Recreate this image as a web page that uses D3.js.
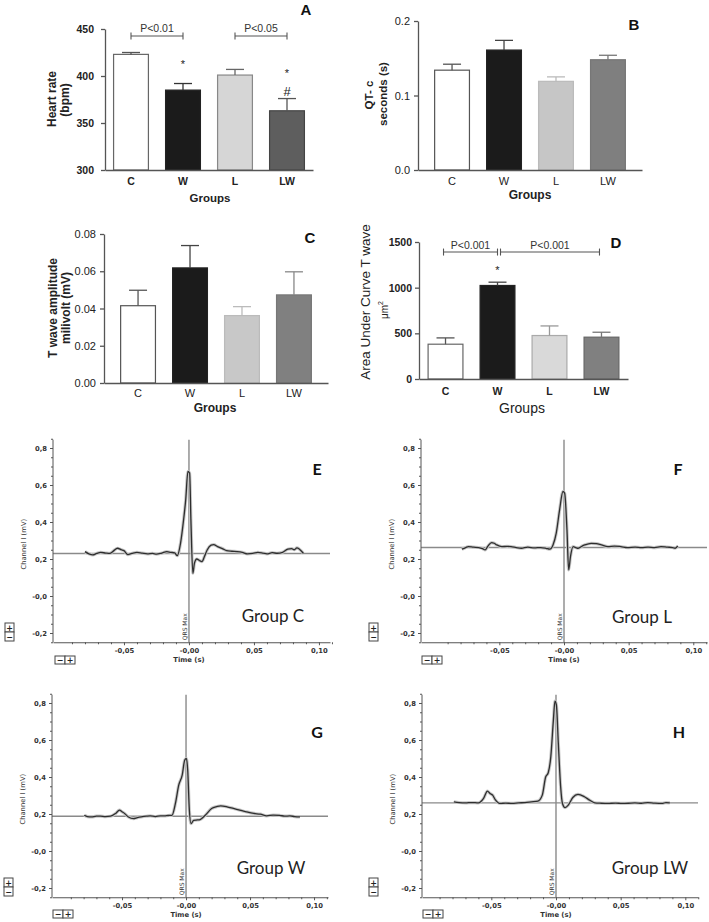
<!DOCTYPE html>
<html><head><meta charset="utf-8">
<script src="https://cdn.jsdelivr.net/npm/d3@7"></script>
<style>body{margin:0;background:#fff}svg{display:block}</style>
</head><body>
<svg id="chart" width="709" height="922"></svg>
<script>
// ---------------- DATA ----------------
const categories = ["C", "W", "L", "LW"];

const heartRate    = [423, 385, 401, 363];
const heartRateErr = [425, 392, 407, 376];
const heartTicks   = [300, 350, 400, 450];
const heartTickLabels = ["300", "350", "400", "450"];

const qtc    = [0.134, 0.161, 0.119, 0.148];
const qtcErr = [0.142, 0.174, 0.125, 0.154];
const qtcTicks = [0, 0.1, 0.2];
const qtcTickLabels = ["0.0", "0.1", "0.2"];

const tAmp    = [0.0415, 0.0618, 0.0362, 0.0473];
const tAmpErr = [0.0498, 0.0738, 0.0410, 0.0597];
const tAmpTicks = [0, 0.02, 0.04, 0.06, 0.08];
const tAmpTickLabels = ["0.00", "0.02", "0.04", "0.06", "0.08"];

const aucT    = [381, 1024, 476, 458];
const aucTErr = [450, 1060, 581, 512];
const aucTicks = [0, 500, 1000, 1500];
const aucTickLabels = ["0", "500", "1000", "1500"];

const sigA = [{from: "C", to: "W", label: "P<0.01", v: 442.5, labelV: 447},
              {from: "L", to: "LW", label: "P<0.05", v: 442.5, labelV: 447}];
const marksA = [{cat: "W", text: "*", v: 409}, {cat: "LW", text: "*", v: 399}, {cat: "LW", text: "#", v: 379}];
const sigD = [{from: "C", to: "W", label: "P<0.001", v: 1390, labelV: 1425, d0: -2, d1: 0},
              {from: "W", to: "LW", label: "P<0.001", v: 1390, labelV: 1425, d0: 3, d1: -2}];
const marksD = [{cat: "W", text: "*", v: 1150}];

// ECG averaged traces [time (s), channel I (mV)]
const traceC = [[-0.080,0.240],[-0.077,0.228],[-0.074,0.222],[-0.071,0.230],[-0.068,0.236],[-0.064,0.232],[-0.061,0.230],[-0.058,0.244],[-0.055,0.258],[-0.052,0.250],[-0.050,0.245],[-0.047,0.224],[-0.044,0.230],[-0.040,0.236],[-0.036,0.232],[-0.032,0.228],[-0.028,0.230],[-0.025,0.226],[-0.021,0.232],[-0.017,0.240],[-0.014,0.236],[-0.011,0.233],[-0.009,0.218],[-0.0065,0.285],[-0.004,0.42],[-0.0025,0.52],[-0.0008,0.673],[0.0005,0.665],[0.0015,0.41],[0.003,0.123],[0.0042,0.177],[0.006,0.200],[0.008,0.192],[0.010,0.186],[0.012,0.215],[0.014,0.249],[0.017,0.275],[0.019,0.278],[0.022,0.267],[0.026,0.255],[0.029,0.245],[0.033,0.242],[0.037,0.240],[0.041,0.236],[0.045,0.228],[0.049,0.230],[0.053,0.236],[0.057,0.232],[0.060,0.228],[0.064,0.234],[0.068,0.231],[0.072,0.236],[0.076,0.253],[0.079,0.256],[0.081,0.250],[0.083,0.260],[0.085,0.253],[0.088,0.231]];
const traceL = [[-0.079,0.253],[-0.076,0.262],[-0.074,0.267],[-0.070,0.264],[-0.066,0.262],[-0.063,0.256],[-0.061,0.249],[-0.059,0.268],[-0.056,0.289],[-0.054,0.285],[-0.052,0.276],[-0.048,0.267],[-0.044,0.268],[-0.041,0.267],[-0.037,0.262],[-0.033,0.258],[-0.028,0.264],[-0.023,0.260],[-0.018,0.262],[-0.014,0.258],[-0.011,0.253],[-0.0085,0.276],[-0.006,0.34],[-0.0034,0.466],[-0.0008,0.565],[0.0005,0.556],[0.0023,0.357],[0.0036,0.141],[0.005,0.213],[0.007,0.267],[0.009,0.262],[0.011,0.258],[0.014,0.270],[0.016,0.276],[0.021,0.285],[0.025,0.283],[0.029,0.276],[0.034,0.267],[0.039,0.270],[0.044,0.267],[0.049,0.262],[0.055,0.264],[0.060,0.262],[0.065,0.264],[0.070,0.262],[0.075,0.267],[0.080,0.264],[0.084,0.262],[0.086,0.258],[0.088,0.271]];
const traceW = [[-0.0795,0.193],[-0.077,0.186],[-0.074,0.184],[-0.070,0.188],[-0.067,0.188],[-0.063,0.186],[-0.059,0.188],[-0.055,0.203],[-0.052,0.221],[-0.050,0.212],[-0.048,0.203],[-0.045,0.184],[-0.041,0.175],[-0.038,0.180],[-0.035,0.184],[-0.031,0.188],[-0.028,0.190],[-0.024,0.186],[-0.020,0.190],[-0.017,0.190],[-0.014,0.192],[-0.011,0.193],[-0.0083,0.257],[-0.0057,0.356],[-0.003,0.41],[-0.001,0.492],[0.0003,0.500],[0.0013,0.438],[0.0026,0.220],[0.0039,0.148],[0.006,0.166],[0.009,0.168],[0.011,0.170],[0.015,0.193],[0.020,0.230],[0.024,0.240],[0.027,0.244],[0.032,0.239],[0.037,0.230],[0.042,0.221],[0.047,0.212],[0.053,0.203],[0.058,0.199],[0.063,0.190],[0.068,0.194],[0.073,0.193],[0.077,0.188],[0.081,0.190],[0.085,0.186],[0.089,0.184]];
const traceLW = [[-0.079,0.266],[-0.075,0.262],[-0.070,0.260],[-0.065,0.262],[-0.060,0.260],[-0.056,0.284],[-0.053,0.324],[-0.051,0.311],[-0.049,0.302],[-0.047,0.278],[-0.043,0.257],[-0.039,0.259],[-0.034,0.257],[-0.029,0.260],[-0.024,0.262],[-0.019,0.266],[-0.014,0.270],[-0.0106,0.302],[-0.008,0.400],[-0.006,0.423],[-0.004,0.510],[-0.002,0.709],[-0.0008,0.810],[0.0003,0.790],[0.0018,0.582],[0.0036,0.347],[0.005,0.257],[0.007,0.235],[0.0095,0.248],[0.013,0.289],[0.017,0.306],[0.022,0.293],[0.026,0.275],[0.030,0.260],[0.035,0.258],[0.040,0.257],[0.046,0.259],[0.051,0.257],[0.056,0.258],[0.061,0.260],[0.066,0.258],[0.071,0.262],[0.076,0.259],[0.082,0.257],[0.085,0.262],[0.088,0.260]];
const baselines = {C: 0.230, L: 0.262, W: 0.188, LW: 0.260};

const ecgYMajor = [-0.2, 0, 0.2, 0.4, 0.6, 0.8];
const ecgYLabels = ["-0,2", "-0,0", "0,2", "0,4", "0,6", "0,8"];
const ecgXMajor = [-0.05, 0, 0.05, 0.10];
const ecgXLabels = ["-0,05", "-0,00", "0,05", "0,10"];

// ---------------- DRAWING ----------------
const svg = d3.select("#chart");
const SANS = "'Liberation Sans', Arial, sans-serif";

function barPanel(p) {
  const g = svg.append("g");
  const x = d3.scaleBand().domain(categories).range([p.x0, p.x1]).paddingInner(0.33).paddingOuter(p.po);
  const y = d3.scaleLinear().domain(p.domain).range([p.yBot, p.yTop]);
  const bw = x.bandwidth();
  const cx = c => x(c) + bw / 2;

  g.selectAll("rect.bar").data(p.values).join("rect")
    .attr("x", (d, i) => x(categories[i])).attr("width", bw)
    .attr("y", d => y(d)).attr("height", d => y(p.domain[0]) - y(d))
    .attr("fill", (d, i) => p.fills[i]).attr("stroke", (d, i) => p.strokes[i]).attr("stroke-width", 1.2);

  const eb = g.selectAll("g.err").data(p.errs).join("g").attr("stroke", (d, i) => p.errStrokes[i]).attr("stroke-width", 1.3);
  eb.append("line").attr("x1", (d, i) => cx(categories[i])).attr("x2", (d, i) => cx(categories[i]))
    .attr("y1", (d, i) => y(p.values[i])).attr("y2", d => y(d));
  eb.append("line").attr("x1", (d, i) => cx(categories[i]) - 9).attr("x2", (d, i) => cx(categories[i]) + 9)
    .attr("y1", d => y(d)).attr("y2", d => y(d));

  const ya = d3.axisLeft(y).tickValues(p.ticks).tickFormat((d, i) => p.tickLabels[i])
    .tickSize(4).tickSizeOuter(0).tickPadding(p.tickPad);
  const yg = g.append("g").attr("transform", `translate(${p.x0},0)`).call(ya);
  yg.selectAll("path,line").attr("stroke", "#555").attr("stroke-width", 1.3);
  yg.selectAll("text").attr("font-family", SANS).attr("font-size", p.tickSize)
    .attr("font-weight", p.tickBold ? "bold" : "normal").attr("fill", "#222");

  const xa = d3.axisBottom(x).tickSize(0).tickSizeOuter(0).tickPadding(p.catPad);
  const xg = g.append("g").attr("transform", `translate(0,${p.yBot})`).call(xa);
  xg.selectAll("path").attr("stroke", "#555").attr("stroke-width", 1.3);
  xg.selectAll("text").attr("font-family", SANS).attr("font-size", p.catSize)
    .attr("font-weight", p.catBold ? "bold" : "normal").attr("fill", "#222");

  g.append("text").attr("x", p.xTitle[0]).attr("y", p.xTitle[1]).attr("text-anchor", "middle")
    .attr("dominant-baseline", "central").attr("font-family", SANS).attr("font-size", p.xTitleSize)
    .attr("font-weight", p.xTitleBold ? "bold" : "normal").attr("fill", "#222").text("Groups");
  p.yTitle.forEach(t => {
    const tx = g.append("text").attr("transform", `translate(${t.x},${t.y}) rotate(-90)`)
      .attr("text-anchor", "middle").attr("dominant-baseline", "central").attr("font-family", SANS)
      .attr("font-size", t.size).attr("font-weight", t.bold ? "bold" : "normal").attr("fill", "#222");
    if (t.sup) { tx.text(t.text); tx.append("tspan").attr("dy", -4).attr("font-size", t.size * 0.7).text(t.sup); }
    else tx.text(t.text);
  });
  g.append("text").attr("x", p.letter[1]).attr("y", p.letter[2]).attr("text-anchor", "middle")
    .attr("dominant-baseline", "central").attr("font-family", SANS).attr("font-size", 15)
    .attr("font-weight", "bold").attr("fill", "#111").text(p.letter[0]);

  (p.sig || []).forEach(s => {
    const xa0 = cx(s.from) + (s.d0 || 0), xa1 = cx(s.to) + (s.d1 || 0), yy = y(s.v);
    const sg = g.append("g").attr("stroke", "#555").attr("stroke-width", 1.1);
    sg.append("line").attr("x1", xa0).attr("x2", xa1).attr("y1", yy).attr("y2", yy);
    sg.append("line").attr("x1", xa0).attr("x2", xa0).attr("y1", yy - 3.5).attr("y2", yy + 3.5);
    sg.append("line").attr("x1", xa1).attr("x2", xa1).attr("y1", yy - 3.5).attr("y2", yy + 3.5);
    g.append("text").attr("x", (xa0 + xa1) / 2).attr("y", y(s.labelV)).attr("text-anchor", "middle")
      .attr("font-family", SANS).attr("font-size", 10.5).attr("fill", "#333").text(s.label);
  });
  (p.marks || []).forEach(m => {
    g.append("text").attr("x", cx(m.cat)).attr("y", y(m.v)).attr("text-anchor", "middle")
      .attr("font-family", SANS).attr("font-size", m.text === "#" ? 13 : 11).attr("fill", "#222").text(m.text);
  });
}

barPanel({x0: 105, x1: 313, yTop: 29, yBot: 170, domain: [300, 450], po: 0.165,
  values: heartRate, errs: heartRateErr, ticks: heartTicks, tickLabels: heartTickLabels,
  tickSize: 10.5, tickBold: true, tickPad: 7, catSize: 10.5, catBold: true, catPad: 8,
  fills: ["#ffffff", "#1b1b1b", "#d6d6d6", "#5e5e5e"], strokes: ["#666", "#222", "#888", "#444"],
  errStrokes: ["#555", "#333", "#666", "#555"],
  xTitle: [210, 198], xTitleSize: 11.5, xTitleBold: true,
  yTitle: [{text: "Heart rate", x: 52, y: 99, size: 12, bold: true}, {text: "(bpm)", x: 65, y: 100, size: 12, bold: true}],
  letter: ["A", 306, 9], sig: sigA, marks: marksA});

barPanel({x0: 418, x1: 642, yTop: 21, yBot: 170, domain: [0, 0.2], po: 0.32,
  values: qtc, errs: qtcErr, ticks: qtcTicks, tickLabels: qtcTickLabels,
  tickSize: 11, tickBold: false, tickPad: 4, catSize: 11, catBold: false, catPad: 7,
  fills: ["#ffffff", "#1b1b1b", "#c6c6c6", "#7f7f7f"], strokes: ["#555", "#222", "#bbb", "#777"],
  errStrokes: ["#555", "#444", "#bbb", "#777"],
  xTitle: [530, 195], xTitleSize: 12, xTitleBold: true,
  yTitle: [{text: "QT- c", x: 369, y: 95, size: 11.5, bold: true}, {text: "seconds (s)", x: 382.5, y: 94, size: 11.5, bold: true}],
  letter: ["B", 634, 24]});

barPanel({x0: 104, x1: 328, yTop: 234, yBot: 383, domain: [0, 0.08], po: 0.32,
  values: tAmp, errs: tAmpErr, ticks: tAmpTicks, tickLabels: tAmpTickLabels,
  tickSize: 11, tickBold: false, tickPad: 4, catSize: 11, catBold: false, catPad: 6,
  fills: ["#ffffff", "#1b1b1b", "#c8c8c8", "#808080"], strokes: ["#555", "#222", "#bbb", "#777"],
  errStrokes: ["#555", "#444", "#bbb", "#888"],
  xTitle: [215, 408], xTitleSize: 12, xTitleBold: true,
  yTitle: [{text: "T wave amplitude", x: 52.5, y: 308, size: 12, bold: true}, {text: "milivolt (mV)", x: 66, y: 308, size: 12, bold: true}],
  letter: ["C", 310, 237]});

barPanel({x0: 419, x1: 628, yTop: 242, yBot: 379, domain: [0, 1500], po: 0.175,
  values: aucT, errs: aucTErr, ticks: aucTicks, tickLabels: aucTickLabels,
  tickSize: 10.5, tickBold: true, tickPad: 3, catSize: 10.5, catBold: true, catPad: 9,
  fills: ["#ffffff", "#1b1b1b", "#d9d9d9", "#808080"], strokes: ["#666", "#222", "#aaa", "#666"],
  errStrokes: ["#555", "#444", "#999", "#777"],
  xTitle: [522, 408], xTitleSize: 14, xTitleBold: false,
  yTitle: [{text: "Area Under Curve T wave", x: 365, y: 302, size: 13.5, bold: false},
           {text: "μm", sup: "2", x: 384, y: 310, size: 10, bold: false}],
  letter: ["D", 616, 242], sig: sigD, marks: marksD});

// ---------------- ECG PANELS ----------------
const ECGF = "'DejaVu Sans', Verdana, sans-serif";
const LABF = "Lato, 'Open Sans', sans-serif";

function ecgPanel(p) {
  const g = svg.append("g");
  const x = d3.scaleLinear().domain(p.xDomain).range([p.left, p.right]);
  const y = d3.scaleLinear().domain([0, 0.8]).range([p.y0, p.y08]);
  const yBot = y(-0.25), yTop = y(0.845);

  g.append("line").attr("x1", p.left).attr("x2", p.right).attr("y1", y(p.baseline)).attr("y2", y(p.baseline))
    .attr("stroke", "#8a8a8a").attr("stroke-width", 1.4);
  g.append("line").attr("x1", x(0)).attr("x2", x(0)).attr("y1", yTop).attr("y2", yBot)
    .attr("stroke", "#8a8a8a").attr("stroke-width", 1.4);
  g.append("text").attr("transform", `translate(${x(0) - 2},${yBot - 2}) rotate(-90)`)
    .attr("font-family", ECGF).attr("font-size", 6).attr("fill", "#333").text("QRS Max");

  const line = d3.line().x(d => x(d[0])).y(d => y(d[1])).curve(d3.curveMonotoneX);
  g.append("path").datum(p.trace).attr("d", line).attr("fill", "none")
    .attr("stroke", "#c8c8c8").attr("stroke-width", 3.2).attr("stroke-linejoin", "round");
  g.append("path").datum(p.trace).attr("d", line).attr("fill", "none")
    .attr("stroke", "#2e2e2e").attr("stroke-width", 1.3).attr("stroke-linejoin", "round");

  const yMinor = d3.range(-0.25, 0.8501, 0.05).filter(v => Math.abs(Math.round(v * 5) - v * 5) > 1e-6);
  const yg1 = g.append("g").attr("transform", `translate(${p.left},0)`)
    .call(d3.axisLeft(y).tickValues(yMinor).tickSize(2).tickFormat(""));
  yg1.select("path").remove();
  const yg = g.append("g").attr("transform", `translate(${p.left},0)`)
    .call(d3.axisLeft(y).tickValues(ecgYMajor).tickFormat((d, i) => ecgYLabels[i]).tickSize(3).tickSizeOuter(0).tickPadding(3));
  yg.select("path").attr("d", `M0,${yBot}V${yTop}`);
  const xMinor = d3.range(-0.10, 0.1101, 0.01).filter(v => Math.abs(Math.round(v * 20) - v * 20) > 1e-6);
  const xg1 = g.append("g").attr("transform", `translate(0,${yBot})`)
    .call(d3.axisBottom(x).tickValues(xMinor).tickSize(2).tickFormat(""));
  xg1.select("path").remove();
  const xg = g.append("g").attr("transform", `translate(0,${yBot})`)
    .call(d3.axisBottom(x).tickValues(ecgXMajor).tickFormat((d, i) => ecgXLabels[i]).tickSize(3).tickSizeOuter(0).tickPadding(3));
  [yg1, yg, xg1, xg].forEach(a => {
    a.selectAll("path,line").attr("stroke", "#555").attr("stroke-width", 1);
    a.selectAll("text").attr("font-family", ECGF).attr("font-size", 6.8).attr("font-weight", "bold").attr("fill", "#333");
  });

  g.append("text").attr("x", x(0)).attr("y", yBot + 18).attr("text-anchor", "middle").attr("dominant-baseline", "central")
    .attr("font-family", ECGF).attr("font-size", 6.8).attr("font-weight", "bold").attr("fill", "#333").text("Time (s)");
  g.append("text").attr("transform", `translate(${p.left - 29},${y(0.28)}) rotate(-90)`)
    .attr("text-anchor", "middle").attr("dominant-baseline", "central")
    .attr("font-family", ECGF).attr("font-size", 6.8).attr("fill", "#333").text("Channel I (mV)");

  g.append("text").attr("x", p.letter[1]).attr("y", p.letter[2]).attr("text-anchor", "middle").attr("dominant-baseline", "central")
    .attr("font-family", LABF).attr("font-size", 16).attr("font-weight", "bold").attr("fill", "#111").text(p.letter[0]);
  g.append("text").attr("x", p.group[1]).attr("y", p.group[2]).attr("text-anchor", "middle").attr("dominant-baseline", "central")
    .attr("font-family", LABF).attr("font-size", 17).attr("fill", "#222").text(p.group[0]);

  const btn = (bx, by, w, h, sym) => {
    g.append("rect").attr("x", bx).attr("y", by).attr("width", w).attr("height", h)
      .attr("fill", "#fff").attr("stroke", "#444").attr("stroke-width", 1);
    g.append("text").attr("x", bx + w / 2).attr("y", by + h / 2 + 0.5).attr("text-anchor", "middle")
      .attr("dominant-baseline", "central").attr("font-family", ECGF).attr("font-size", 8)
      .attr("font-weight", "bold").attr("fill", "#222").text(sym);
  };
  btn(p.bv[0], p.bv[1], 9, 9, "+"); btn(p.bv[0], p.bv[1] + 9, 9, 9, "−");
  btn(p.bh[0], p.bh[1], 10, 8, "−"); btn(p.bh[0] + 10, p.bh[1], 10, 8, "+");
}

ecgPanel({trace: traceC, baseline: baselines.C, xDomain: [-0.1046, 0.1085], left: 53, right: 330, y0: 596, y08: 448,
  letter: ["E", 317, 468], group: ["Group C", 273, 615], bv: [5, 623], bh: [55, 656]});
ecgPanel({trace: traceL, baseline: baselines.L, xDomain: [-0.1106, 0.1106], left: 421, right: 707, y0: 596, y08: 448,
  letter: ["F", 678, 468], group: ["Group L", 642, 616], bv: [369, 623], bh: [422, 656]});
ecgPanel({trace: traceW, baseline: baselines.W, xDomain: [-0.1047, 0.1109], left: 52, right: 328, y0: 851, y08: 703,
  letter: ["G", 317, 731], group: ["Group W", 271, 867], bv: [4, 878], bh: [53, 910]});
ecgPanel({trace: traceLW, baseline: baselines.LW, xDomain: [-0.1036, 0.1098], left: 422, right: 698, y0: 851, y08: 703,
  letter: ["H", 679, 731], group: ["Group LW", 650, 867], bv: [369, 878], bh: [423, 910]});
</script>
</body></html>
